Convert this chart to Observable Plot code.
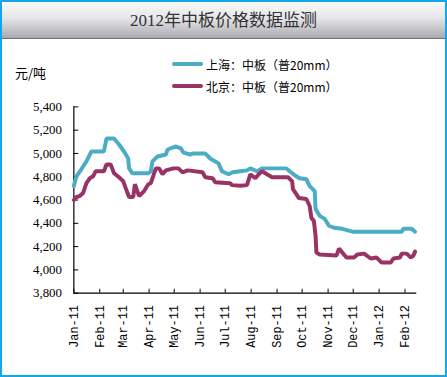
<!DOCTYPE html>
<html>
<head>
<meta charset="utf-8">
<script src="https://cdn.jsdelivr.net/npm/d3@7"></script>
<script src="https://cdn.jsdelivr.net/npm/@observablehq/plot@0.6"></script>
<style>
  html, body { margin: 0; padding: 0; background: #fff; }
  #wrap { position: relative; width: 447px; height: 377px; box-sizing: border-box; border: 2px solid #12a6ec; overflow: hidden; background: #fff; }
  #title { position: absolute; left: 0; top: 0; width: 443px; height: 36px; background: linear-gradient(#fafafa 0%, #e6e6e8 45%, #a9a9b0 100%); border-bottom: 1px solid #6f6f78; text-align: center; font: 17px "Liberation Serif", "Noto Sans CJK SC", serif; line-height: 38px; color: #333; }
  #unit { position: absolute; left: 13px; top: 61px; font: 13px "Noto Sans CJK SC", sans-serif; color: #000; }
  #legend { position: absolute; left: 170px; top: 51px; font: 12px "Noto Sans CJK SC", sans-serif; color: #000; }
  #legend .row { display: flex; align-items: center; height: 22px; }
  #legend .sw { display: inline-block; width: 31px; height: 4px; border-radius: 2px; margin-right: 3px; }
  #chart { position: absolute; left: 0; top: 37px; }
</style>
</head>
<body>
<div id="wrap">
  <div id="title"></div>
  <div id="chart"></div>
  <div id="unit"></div>
  <div id="legend"></div>
</div>
<script>
const titleText = "2012年中板价格数据监测";
const unitText = "元/吨";
const seriesNames = ["上海：中板（普20mm）", "北京：中板（普20mm）"];
const seriesColors = ["#4bacc6", "#993366"];

const shanghaiDates = ["2011-01-01","2011-01-04","2011-01-10","2011-01-16","2011-01-22","2011-02-06","2011-02-09","2011-02-18","2011-02-24","2011-03-02","2011-03-07","2011-03-08","2011-03-12","2011-03-31","2011-04-03","2011-04-05","2011-04-11","2011-04-21","2011-04-23","2011-05-03","2011-05-09","2011-05-12","2011-05-20","2011-05-24","2011-06-07","2011-06-13","2011-06-23","2011-06-27","2011-07-05","2011-07-10","2011-07-19","2011-07-27","2011-07-31","2011-08-08","2011-08-14","2011-09-12","2011-09-16","2011-09-24","2011-09-28","2011-10-06","2011-10-10","2011-10-16","2011-10-17","2011-10-22","2011-10-28","2011-11-02","2011-11-08","2011-11-18","2011-11-30","2012-01-28","2012-01-30","2012-02-09","2012-02-13"];
const shanghaiValues = [4720,4804,4864,4932,5017,5017,5128,5128,5077,5017,4957,4872,4830,4830,4847,4932,4974,4991,5034,5060,5043,5008,4991,5000,5000,4957,4915,4847,4821,4838,4847,4855,4872,4847,4872,4872,4847,4804,4787,4779,4719,4677,4523,4464,4438,4379,4362,4353,4328,4328,4353,4353,4328];

const beijingDates = ["2011-01-01","2011-01-04","2011-01-08","2011-01-12","2011-01-16","2011-01-20","2011-01-24","2011-01-27","2011-02-06","2011-02-09","2011-02-14","2011-02-18","2011-02-24","2011-03-01","2011-03-04","2011-03-08","2011-03-13","2011-03-15","2011-03-20","2011-03-26","2011-03-31","2011-04-03","2011-04-09","2011-04-13","2011-04-17","2011-04-21","2011-04-30","2011-05-06","2011-05-11","2011-05-17","2011-06-04","2011-06-07","2011-06-16","2011-06-19","2011-07-07","2011-07-09","2011-07-19","2011-07-27","2011-07-31","2011-08-06","2011-08-10","2011-08-14","2011-08-20","2011-08-26","2011-09-14","2011-09-19","2011-09-20","2011-09-24","2011-09-27","2011-10-06","2011-10-10","2011-10-12","2011-10-15","2011-10-17","2011-10-18","2011-10-22","2011-11-11","2011-11-14","2011-11-23","2011-12-02","2011-12-06","2011-12-14","2011-12-22","2011-12-29","2012-01-04","2012-01-15","2012-01-18","2012-01-26","2012-01-28","2012-02-03","2012-02-08","2012-02-11","2012-02-13"];
const beijingValues = [4600,4626,4634,4660,4745,4787,4804,4847,4847,4906,4906,4830,4796,4762,4702,4626,4626,4736,4634,4677,4736,4745,4872,4872,4821,4855,4872,4872,4838,4855,4838,4796,4787,4753,4745,4728,4722,4728,4821,4787,4821,4847,4821,4796,4796,4762,4694,4651,4617,4609,4549,4447,4421,4294,4149,4132,4123,4183,4106,4106,4132,4140,4098,4106,4064,4064,4098,4106,4140,4140,4106,4123,4157];

const yTicks = [3800,4000,4200,4400,4600,4800,5000,5200,5400];
const xTickLabels = ["Jan-11","Feb-11","Mar-11","Apr-11","May-11","Jun-11","Jul-11","Aug-11","Sep-11","Oct-11","Nov-11","Dec-11","Jan-12","Feb-12"];
const xDomain = ["2011-01-01","2012-02-15"];

const parse = d3.utcParse("%Y-%m-%d");
const parseLabel = d3.utcParse("%b-%y");
const fmtLabel = d3.utcFormat("%b-%y");
const xTicks = xTickLabels.map(parseLabel);

const data = [
  ...shanghaiDates.map((d, i) => ({series: seriesNames[0], date: parse(d), value: shanghaiValues[i]})),
  ...beijingDates.map((d, i) => ({series: seriesNames[1], date: parse(d), value: beijingValues[i]}))
];

document.getElementById("title").textContent = titleText;
document.getElementById("unit").textContent = unitText;
const legend = document.getElementById("legend");
seriesNames.forEach((n, i) => {
  const row = document.createElement("div");
  row.className = "row";
  const sw = document.createElement("span");
  sw.className = "sw";
  sw.style.background = seriesColors[i];
  const t = document.createElement("span");
  t.textContent = n;
  row.appendChild(sw); row.appendChild(t);
  legend.appendChild(row);
});

const W = 447, H = 340;
const mT = 68, mB = 84, mL = 72, mR = 29;
const innerW = W - mL - mR, innerH = H - mT - mB;

const plot = Plot.plot({
  width: W,
  height: H,
  marginTop: mT,
  marginBottom: mB,
  marginLeft: mL,
  marginRight: mR,
  style: {background: "transparent", color: "#000"},
  x: {type: "utc", domain: xDomain.map(parse)},
  y: {domain: [3800, 5400]},
  color: {domain: seriesNames, range: seriesColors},
  marks: [
    Plot.axisY(yTicks, {tickSize: 0, tickPadding: 12, tickFormat: d3.format(","), fontSize: 13, fontFamily: "Liberation Serif, serif", label: null}),
    Plot.axisX(xTicks, {tickSize: 0, tickPadding: 12, tickRotate: -90, tickFormat: fmtLabel, fontSize: 12, fontFamily: "Liberation Mono, monospace", label: null}),
    Plot.tickY(yTicks, {y: d => d, stroke: "#000", strokeWidth: 1, insetRight: innerW - 5}),
    Plot.tickX(xTicks, {x: d => d, stroke: "#000", strokeWidth: 1, insetTop: innerH - 4}),
    Plot.ruleY([yTicks[0]], {stroke: "#000", strokeWidth: 1.2}),
    Plot.ruleX([parse(xDomain[0])], {stroke: "#000", strokeWidth: 1.2}),
    Plot.line(data, {x: "date", y: "value", z: "series", stroke: "series", strokeWidth: 4, strokeLinejoin: "miter"})
  ]
});
document.getElementById("chart").appendChild(plot);
</script>
</body>
</html>
